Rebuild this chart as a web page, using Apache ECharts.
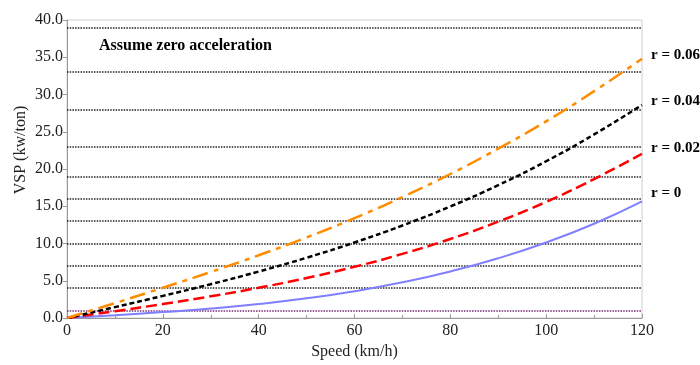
<!DOCTYPE html>
<html>
<head>
<meta charset="utf-8">
<script src="https://cdn.jsdelivr.net/npm/echarts@6/dist/echarts.min.js"></script>
<style>
html,body{margin:0;padding:0;background:#fff;}
#chart{width:700px;height:365px;}
</style>
</head>
<body>
<div id="chart"></div>
<script>
var speeds = [0, 10, 20, 30, 40, 50, 60, 70, 80, 90, 100, 110, 120];
var vspR0   = [0, 0.37, 0.79, 1.27, 1.88, 2.64, 3.60, 4.79, 6.25, 8.02, 10.14, 12.65, 15.65];
var vspR002 = [0, 0.91, 1.88, 2.91, 4.06, 5.37, 6.87, 8.61, 10.61, 12.93, 15.59, 18.65, 22.05];
var vspR004 = [0, 1.46, 2.97, 4.54, 6.24, 8.09, 10.14, 12.42, 14.97, 17.83, 21.04, 24.64, 28.6];
var vspR006 = [0, 2.00, 4.06, 6.18, 8.42, 10.82, 13.41, 16.24, 19.33, 22.74, 26.40, 30.45, 34.8];
var seriesNames = ['r = 0', 'r = 0.02', 'r = 0.04', 'r = 0.06'];
var binLines = [4, 7, 10, 13, 16, 19, 23, 28, 33, 39];
var purpleLine = [1];
var yTicks = [0, 5, 10, 15, 20, 25, 30, 35, 40];
var xTicks = [0, 20, 40, 60, 80, 100, 120];

function pairs(vals){ return speeds.map(function(s,i){ return [s, vals[i]]; }); }

var serif = '"Liberation Serif","DejaVu Serif",serif';
var chart = echarts.init(document.getElementById('chart'));

var markLines = binLines.map(function(v){
  return {yAxis: v, lineStyle:{color:'#222', type:[1.5,1.2], width:1.6}};
}).concat(purpleLine.map(function(v){
  return {yAxis: v, lineStyle:{color:'#7a2a7a', type:[1.5,1.2], width:1.6}};
}));

chart.setOption({
  animation:false,
  backgroundColor:'#fff',
  grid:{left:67, right:58, top:20, bottom:41, show:true, borderColor:'#d0d0d0', borderWidth:1},
  xAxis:{
    type:'value', min:xTicks[0], max:xTicks[xTicks.length-1], interval:20,
    name:'Speed (km/h)', nameLocation:'middle', nameGap:26,
    nameTextStyle:{fontFamily:serif, fontSize:16, color:'#222'},
    axisLine:{show:true, lineStyle:{color:'#999', width:1}},
    axisTick:{show:true, inside:true, length:4, lineStyle:{color:'#999'}},
    minorTick:{show:true, splitNumber:2, length:3, lineStyle:{color:'#999'}},
    axisLabel:{fontFamily:serif, fontSize:16, color:'#222', margin:5},
    splitLine:{show:false}
  },
  yAxis:{
    type:'value', min:yTicks[0], max:yTicks[yTicks.length-1], interval:5,
    axisLine:{show:true, lineStyle:{color:'#999', width:1}},
    axisTick:{show:true, length:4, lineStyle:{color:'#999'}},
    axisLabel:{fontFamily:serif, fontSize:16, color:'#222', margin:4, formatter:function(v){return v.toFixed(1);}},
    splitLine:{show:false}
  },
  series:[
    {name:seriesNames[0], type:'line', data:pairs(vspR0), smooth:true, showSymbol:false,
     lineStyle:{color:'#7f7fff', width:2, type:'solid'}, z:3,
     markLine:{silent:true, symbol:'none', label:{show:false}, data:markLines, z:1}},
    {name:seriesNames[1], type:'line', data:pairs(vspR002), smooth:true, showSymbol:false,
     lineStyle:{color:'#ff0000', width:2.5, type:[11,5]}, z:4},
    {name:seriesNames[2], type:'line', data:pairs(vspR004), smooth:true, showSymbol:false,
     lineStyle:{color:'#000000', width:2.5, type:[5,3]}, z:5},
    {name:seriesNames[3], type:'line', data:pairs(vspR006), smooth:true, showSymbol:false,
     lineStyle:{color:'#ff8c00', width:2.5, type:[16,6,5,6]}, z:6}
  ],
  graphic:[
    {type:'text', x:21, y:150, rotation:Math.PI/2, style:{text:'VSP (kw/ton)', font:'16px '+serif, fill:'#222', align:'center', verticalAlign:'middle'}},
    {type:'text', left:99, top:38, style:{text:'Assume zero acceleration', font:'bold 16px '+serif, fill:'#000'}},
    {type:'text', left:651, top:48, style:{text:seriesNames[3], font:'bold 15px '+serif, fill:'#000'}},
    {type:'text', left:651, top:94, style:{text:seriesNames[2], font:'bold 15px '+serif, fill:'#000'}},
    {type:'text', left:651, top:141, style:{text:seriesNames[1], font:'bold 15px '+serif, fill:'#000'}},
    {type:'text', left:651, top:186, style:{text:seriesNames[0], font:'bold 15px '+serif, fill:'#000'}}
  ]
});
</script>
</body>
</html>
